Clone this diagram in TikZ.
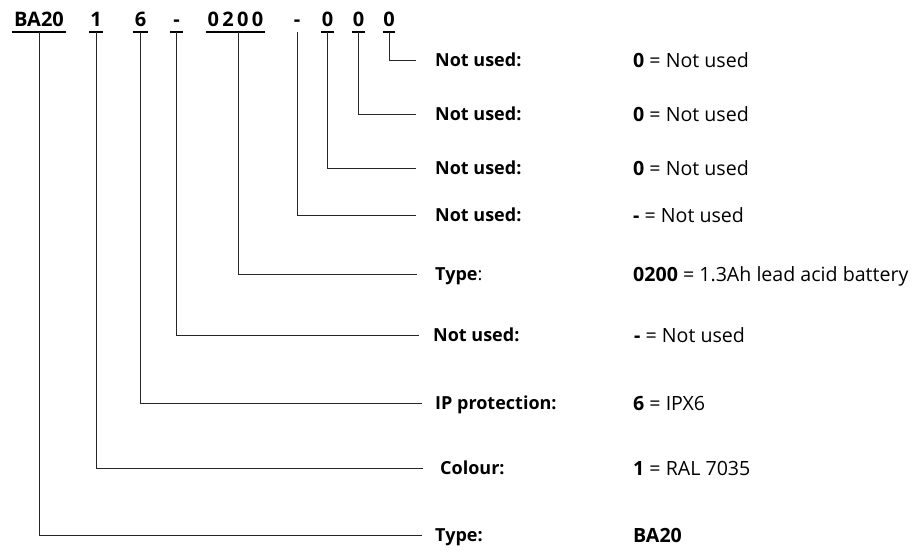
\documentclass[tikz,border=0pt]{standalone}
\usepackage{fontspec}
\setmainfont{Open Sans}
\usepackage{tikz}
\usetikzlibrary{positioning}

\tikzset{
  code/.style={font=\fontsize{20}{22}\selectfont\bfseries, anchor=base, inner xsep=0pt, inner ysep=5pt, text depth=0pt},
  ul/.style={line width=2pt, black},
  lead/.style={line width=1pt, black!85, shorten >=19pt},
  lbl/.style={font=\fontsize{18}{20}\selectfont\bfseries, anchor=west, inner sep=0pt, text height=13pt, text depth=0pt},
  val/.style={font=\fontsize{19.6}{22}\selectfont, anchor=west, inner sep=0pt, text height=14pt, text depth=0pt}
}

\begin{document}
\begin{tikzpicture}[x=1pt,y=-1pt]
\useasboundingbox (0,0) rectangle (920,554);

% the code along the top
\node[code, minimum width=54pt] (ba) at (39,27) {BA20};
\node[code, minimum width=13pt] (col) at (96,27) {1};
\node[code, minimum width=15pt] (ip) at (140.5,27) {6};
\node[code, minimum width=13pt] (da) at (176.5,27) {-};
\node[code, minimum width=59pt] (typ) at (235.5,27) {0\,2\,0\,0};
\node[code, minimum width=8pt] (db) at (297,27) {-};
\node[code, minimum width=13pt] (za) at (327.5,27) {0};
\node[code, minimum width=13pt] (zb) at (358.5,27) {0};
\node[code, minimum width=12pt] (zc) at (389,27) {0};

\draw[ul] (ba.south west) -- (ba.south east);
\draw[ul] (col.south west) -- (col.south east);
\draw[ul] (ip.south west) -- (ip.south east);
\draw[ul] (da.south west) -- (da.south east);
\draw[ul] (typ.south west) -- (typ.south east);
\draw[ul] (za.south west) -- (za.south east);
\draw[ul] (zb.south west) -- (zb.south east);
\draw[ul] (zc.south west) -- (zc.south east);

% labels
\node[lbl] (l1) at (435,60) {Not used:};
\node[lbl] (l2) at (435,114) {Not used:};
\node[lbl] (l3) at (435,168) {Not used:};
\node[lbl] (l4) at (435,215) {Not used:};
\node[lbl] (l5) at (435,274) {Type\mdseries:};
\node[lbl] (l6) at (433,335) {Not used:};
\node[lbl] (l7) at (435,403) {IP protection:};
\node[lbl] (l8) at (440,468) {Colour:};
\node[lbl] (l9) at (435,535) {Type:};

% values
\node[val] (v1) at (633,60) {\textbf{0} = Not used};
\node[val] (v2) at (633,114) {\textbf{0} = Not used};
\node[val] (v3) at (633,168) {\textbf{0} = Not used};
\node[val] (v4) at (633,215) {\textbf{-} = Not used};
\node[val] (v5) at (633,274) {\textbf{0200} = 1.3Ah lead acid battery};
\node[val] (v6) at (634,335) {\textbf{-} = Not used};
\node[val] (v7) at (633,403) {\textbf{6} = IPX6};
\node[val] (v8) at (633,468) {\textbf{1} = RAL 7035};
\node[val] (v9) at (633,535) {\textbf{BA20}};

% leader lines
\draw[lead] (zc.south) |- (l1.west);
\draw[lead] (zb.south) |- (l2.west);
\draw[lead] (za.south) |- (l3.west);
\draw[lead] (db.south) |- (l4.west);
\draw[lead, shorten >=18pt] ([xshift=2.5pt]typ.south) |- (l5.west);
\draw[lead, shorten >=14pt] (da.south) |- (l6.west);
\draw[lead, shorten >=13pt] (ip.south) |- (l7.west);
\draw[lead, shorten >=17pt] (col.south) |- (l8.west);
\draw[lead, shorten >=13pt] (ba.south) |- (l9.west);

\end{tikzpicture}
\end{document}
